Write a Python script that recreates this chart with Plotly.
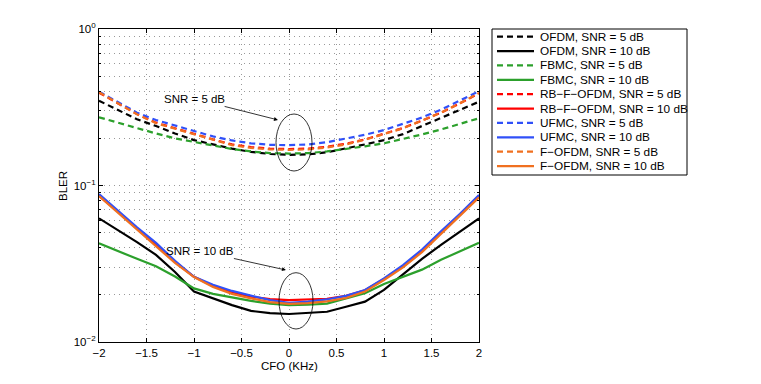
import plotly.graph_objects as go

# CFO axis (KHz)
cfo = [-2.0, -1.8, -1.6, -1.4, -1.2, -1.0, -0.8, -0.6, -0.4, -0.2, 0.0,
       0.2, 0.4, 0.6, 0.8, 1.0, 1.2, 1.4, 1.6, 1.8, 2.0]

# BLER, SNR = 5 dB
ofdm_5 = [0.348, 0.305, 0.265, 0.240, 0.215, 0.195, 0.183, 0.172, 0.164, 0.159, 0.157,
          0.158, 0.163, 0.172, 0.183, 0.195, 0.213, 0.240, 0.270, 0.305, 0.343]
fbmc_5 = [0.273, 0.252, 0.232, 0.215, 0.200, 0.190, 0.180, 0.171, 0.165, 0.161, 0.160,
          0.161, 0.165, 0.171, 0.178, 0.186, 0.198, 0.212, 0.228, 0.248, 0.269]
rbfofdm_5 = [0.392, 0.335, 0.286, 0.252, 0.231, 0.214, 0.197, 0.183, 0.176, 0.172, 0.171,
             0.172, 0.177, 0.185, 0.197, 0.214, 0.233, 0.260, 0.292, 0.335, 0.388]
ufmc_5 = [0.398, 0.340, 0.292, 0.262, 0.243, 0.223, 0.206, 0.194, 0.186, 0.182, 0.181,
          0.183, 0.189, 0.199, 0.211, 0.226, 0.247, 0.272, 0.305, 0.350, 0.400]
fofdm_5 = [0.395, 0.335, 0.285, 0.250, 0.230, 0.213, 0.196, 0.181, 0.174, 0.170, 0.169,
           0.170, 0.175, 0.183, 0.196, 0.213, 0.232, 0.260, 0.292, 0.335, 0.390]

# BLER, SNR = 10 dB
ofdm_10 = [0.0617, 0.052, 0.0435, 0.036, 0.028, 0.021, 0.019, 0.0172, 0.0158, 0.0153, 0.0151,
           0.0153, 0.0156, 0.0168, 0.0181, 0.0215, 0.027, 0.034, 0.0417, 0.0507, 0.0617]
fbmc_10 = [0.0427, 0.038, 0.034, 0.0305, 0.0262, 0.022, 0.0203, 0.0193, 0.0183, 0.0176, 0.0172,
           0.0173, 0.0176, 0.019, 0.0205, 0.0235, 0.0262, 0.029, 0.0335, 0.038, 0.0431]
rbfofdm_10 = [0.086, 0.068, 0.053, 0.042, 0.0325, 0.0261, 0.0228, 0.0208, 0.0195, 0.0188, 0.0185,
              0.0186, 0.0189, 0.0197, 0.0214, 0.0253, 0.0305, 0.0385, 0.050, 0.065, 0.086]
ufmc_10 = [0.088, 0.069, 0.054, 0.043, 0.033, 0.0261, 0.0232, 0.0212, 0.0198, 0.0185, 0.0178,
           0.0181, 0.0187, 0.0197, 0.0215, 0.0255, 0.031, 0.039, 0.051, 0.066, 0.087]
fofdm_10 = [0.0857, 0.067, 0.052, 0.041, 0.032, 0.026, 0.0225, 0.0203, 0.019, 0.018, 0.0175,
            0.0177, 0.0182, 0.0191, 0.021, 0.0249, 0.030, 0.0375, 0.049, 0.064, 0.084]

names = ['OFDM', 'FBMC', 'RB\u2212F\u2212OFDM', 'UFMC', 'F\u2212OFDM']
colors = ['#000000', '#2ca02c', '#ff0000', '#3050f8', '#f07020']
data_5 = [ofdm_5, fbmc_5, rbfofdm_5, ufmc_5, fofdm_5]
data_10 = [ofdm_10, fbmc_10, rbfofdm_10, ufmc_10, fofdm_10]

DASH = '6px,4px'
LW = 2.2
FS = 11.5

fig = go.Figure()
entries = []
for name, color, y5, y10 in zip(names, colors, data_5, data_10):
    fig.add_trace(go.Scatter(
        x=cfo, y=y5, mode='lines', name=f'{name}, SNR = 5 dB', showlegend=False,
        line=dict(color=color, width=LW, dash=DASH)
    ))
    fig.add_trace(go.Scatter(
        x=cfo, y=y10, mode='lines', name=f'{name}, SNR = 10 dB', showlegend=False,
        line=dict(color=color, width=LW)
    ))
    entries.append((f'{name}, SNR = 5 dB', color, DASH))
    entries.append((f'{name}, SNR = 10 dB', color, 'solid'))

# plot area in page pixels: x 99..479, y 29..342 ; the figure sits 8px in from the page corner
OFF = 8
W, H = 761 - OFF, 384 - OFF
L, R, T, B = 99, 479, 29, 342
def px(xp):
    return (xp - L) / (R - L)
def py(yp):
    return (B - yp) / (B - T)

minor_vals = [m * 10.0 ** e for e in (-2, -1) for m in range(2, 10)]

fig.update_layout(
    width=W, height=H,
    margin=dict(l=L - OFF, r=W - (R - OFF), t=T - OFF, b=H - (B - OFF)),
    paper_bgcolor='white', plot_bgcolor='white',
    font=dict(family='Liberation Sans, Arial, sans-serif', size=FS, color='black'),
    showlegend=False,
)

fig.update_xaxes(
    range=[-2, 2], tickvals=[-2, -1.5, -1, -0.5, 0, 0.5, 1, 1.5, 2],
    ticktext=['\u22122', '\u22121.5', '\u22121', '\u22120.5', '0', '0.5', '1', '1.5', '2'],
    ticks='inside', ticklen=4, tickcolor='black', automargin=False,
    showline=True, linecolor='black', linewidth=1, mirror='ticks',
    showgrid=True, gridcolor='#999999', gridwidth=1, griddash='1px,4px',
    zeroline=False, tickfont=dict(size=FS),
)

fig.update_yaxes(
    type='log', range=[-2, 0],
    tickvals=[0.01, 0.1, 1],
    ticktext=['10<sup>\u22122</sup>', '10<sup>\u22121</sup>', '10<sup>0</sup>'],
    ticks='inside', ticklen=4, tickcolor='black', automargin=False,
    showline=True, linecolor='black', linewidth=1, mirror='ticks',
    showgrid=True, gridcolor='#999999', gridwidth=1, griddash='1px,4px',
    minor=dict(tickmode='array', tickvals=minor_vals, ticks='inside', ticklen=2,
               tickcolor='black', showgrid=True, gridcolor='#999999',
               griddash='1px,4px'),
    zeroline=False, tickfont=dict(size=FS),
)

# axis titles
fig.add_annotation(x=px(289), y=py(366), xref='paper', yref='paper', text='CFO (KHz)',
                   showarrow=False, xanchor='center', yanchor='middle', font=dict(size=FS))
fig.add_annotation(x=px(63), y=py(186), xref='paper', yref='paper', text='BLER',
                   showarrow=False, textangle=-90, xanchor='center', yanchor='middle',
                   font=dict(size=FS))

# ellipses marking the two SNR groups
fig.add_shape(type='circle', xref='paper', yref='paper',
              x0=px(276), x1=px(312), y0=py(171), y1=py(114),
              line=dict(color='black', width=0.8))
fig.add_shape(type='circle', xref='paper', yref='paper',
              x0=px(279), x1=px(313), y0=py(329), y1=py(272.7),
              line=dict(color='black', width=0.8))

fig.add_annotation(x=-0.116, y=-0.581, xref='x', yref='y', text='SNR = 5 dB',
                   showarrow=True, ax=-83, ay=-21, arrowhead=2, arrowsize=1,
                   arrowwidth=0.8, arrowcolor='black', font=dict(size=FS))
fig.add_annotation(x=-0.032, y=-1.54, xref='x', yref='y', text='SNR = 10 dB',
                   showarrow=True, ax=-86, ay=-19, arrowhead=2, arrowsize=1,
                   arrowwidth=0.8, arrowcolor='black', font=dict(size=FS))

# legend box (compact rows, as in the reference)
fig.add_shape(type='rect', xref='paper', yref='paper',
              x0=px(492), x1=px(687), y0=py(175), y1=py(29),
              line=dict(color='black', width=1), fillcolor='white')
row0, step = 36.7, 14.37
for i, (label, color, dash) in enumerate(entries):
    yc = row0 + i * step
    fig.add_shape(type='line', xref='paper', yref='paper',
                  x0=px(497), x1=px(534), y0=py(yc), y1=py(yc),
                  line=dict(color=color, width=LW, dash=dash))
    fig.add_annotation(x=px(538), y=py(yc), xref='paper', yref='paper',
                       text=label, showarrow=False, xanchor='left', yanchor='middle',
                       font=dict(size=11.8))

fig.write_html('out.html')
